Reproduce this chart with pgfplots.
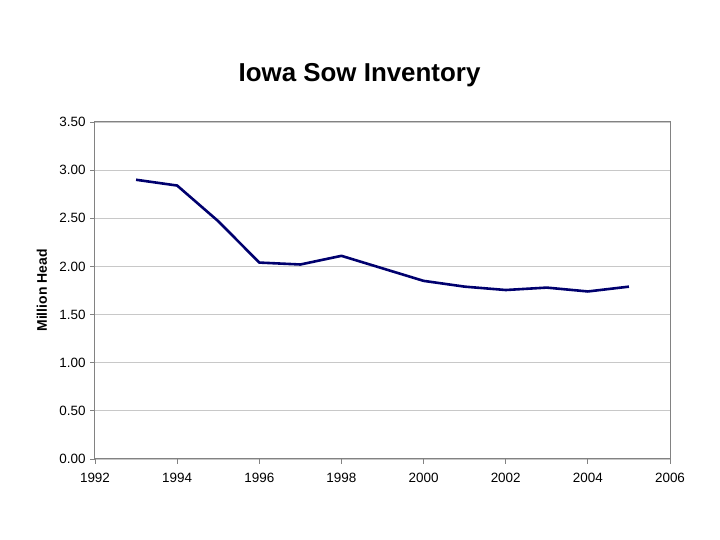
\documentclass[border=0pt]{standalone}
\usepackage{fontspec}
\setmainfont{Liberation Sans}
\usepackage{pgfplots}
\pgfplotsset{compat=1.18}

\definecolor{linenavy}{RGB}{0,0,110}
\definecolor{gridgray}{RGB}{200,200,200}
\definecolor{boxgray}{RGB}{130,130,130}

\begin{document}
\begin{tikzpicture}[x=1bp,y=1bp]
\useasboundingbox (-95,-81) rectangle (625,459);
\begin{axis}[
  at={(0,0)}, anchor=south west,
  scale only axis,
  width=575bp, height=337bp,
  xmin=1992, xmax=2006,
  ymin=0, ymax=3.5,
  xtick={1992,1994,...,2006},
  ytick={0,0.5,...,3.5},
  x tick label style={/pgf/number format/1000 sep={}},
  y tick label style={/pgf/number format/.cd,fixed,fixed zerofill,precision=2},
  /pgf/number format/assume math mode=true,
  tick label style={font=\fontsize{13.5}{16}\selectfont},
  ymajorgrids,
  grid style={gridgray, line width=0.8bp},
  axis line style={boxgray, line width=1bp},
  tick style={boxgray, line width=0.8bp},
  tick align=outside,
  major tick length=5bp,
  xtick pos=bottom, ytick pos=left,
  xticklabel shift=6bp,
  yticklabel shift=1bp,
  ylabel={\bfseries Million Head},
  ylabel style={font=\fontsize{14}{16}\selectfont, at={(axis description cs:0,0.5)}, anchor=center, yshift=53bp},
  title={\bfseries Iowa Sow Inventory},
  title style={font=\fontsize{26}{30}\selectfont, yshift=26bp, xshift=-23bp},
]
\addplot[linenavy, line width=2.6bp, line join=round] coordinates {
  (1993,2.90) (1994,2.84) (1995,2.47) (1996,2.04) (1997,2.02)
  (1998,2.11) (1999,1.98) (2000,1.85) (2001,1.79) (2002,1.755)
  (2003,1.78) (2004,1.74) (2005,1.79)
};
\end{axis}
\end{tikzpicture}
\end{document}
